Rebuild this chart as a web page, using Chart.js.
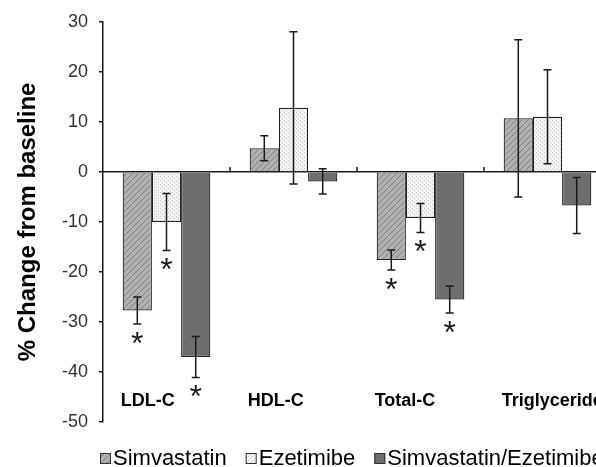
<!DOCTYPE html>
<html>
<head>
<meta charset="utf-8">
<script src="https://cdn.jsdelivr.net/npm/chart.js@4"></script>
<style>
  html, body { margin: 0; padding: 0; background: #fff; overflow: hidden; }
  #wrap { width: 615px; height: 467px; position: relative; }
</style>
</head>
<body>
<div id="wrap"><canvas id="lipidChart"></canvas></div>
<script>
// data
const categories = ['LDL-C', 'HDL-C', 'Total-C', 'Triglyceride'];
const seriesNames = ['Simvastatin', 'Ezetimibe', 'Simvastatin/Ezetimibe'];

const simvaValues = [-27.7, 4.7, -17.6, 10.7];
const simvaErrors = [2.7, 2.5, 2.0, 15.7];
const ezetValues = [-10.0, 12.8, -9.2, 11.0];
const ezetErrors = [5.7, 15.2, 2.9, 9.4];
const comboValues = [-37.0, -1.9, -25.5, -6.7];
const comboErrors = [4.1, 2.5, 2.7, 5.6];

// * = significant vs baseline
const simvaSig = [true, false, true, false];
const ezetSig = [true, false, true, false];
const comboSig = [true, false, true, false];

const yTicks = [30, 20, 10, 0, -10, -20, -30, -40, -50];

// fill patterns
function makePattern(size, bg, drawFn) {
    const c = document.createElement('canvas');
    c.width = size;
    c.height = size;
    const g = c.getContext('2d');
    g.fillStyle = bg;
    g.fillRect(0, 0, size, size);
    drawFn(g);
    return g.createPattern(c, 'repeat');
}

const hatch = makePattern(6, '#b0b0b0', g => {
    g.strokeStyle = '#808080';
    g.lineWidth = 1;
    g.beginPath();
    g.moveTo(0, 6); g.lineTo(6, 0);
    g.moveTo(-3, 3); g.lineTo(3, -3);
    g.moveTo(3, 9); g.lineTo(9, 3);
    g.stroke();
});
const dots = makePattern(4, '#f2f2f2', g => {
    g.fillStyle = '#c4c4c4';
    g.fillRect(0, 0, 1, 1);
    g.fillRect(2, 2, 1, 1);
});
const solid = '#6e6e6e';

const errorSets = [simvaErrors, ezetErrors, comboErrors];
const sigSets = [simvaSig, ezetSig, comboSig];

// error bars, asterisks, category labels, boundary ticks
const extrasPlugin = {
    id: 'extras',
    afterDatasetsDraw(chart) {
        const ctx = chart.ctx;
        const y = chart.scales.y;
        const x = chart.scales.x;
        ctx.save();
        chart.data.datasets.forEach((ds, di) => {
            const meta = chart.getDatasetMeta(di);
            meta.data.forEach((bar, i) => {
                const v = ds.data[i];
                const e = errorSets[di][i];
                const top = y.getPixelForValue(v + e);
                const bot = y.getPixelForValue(v - e);
                ctx.strokeStyle = '#1a1a1a';
                ctx.lineWidth = 1.5;
                ctx.beginPath();
                ctx.moveTo(bar.x, top); ctx.lineTo(bar.x, bot);
                ctx.moveTo(bar.x - 4, top); ctx.lineTo(bar.x + 4, top);
                ctx.moveTo(bar.x - 4, bot); ctx.lineTo(bar.x + 4, bot);
                ctx.stroke();
                if (sigSets[di][i]) {
                    ctx.fillStyle = '#1a1a1a';
                    ctx.font = '32px "Liberation Sans", Arial';
                    ctx.textAlign = 'center';
                    ctx.textBaseline = 'alphabetic';
                    ctx.fillText('*', bar.x, bot + 30);
                }
            });
        });

        // small ticks between categories, above the axis
        const zeroY = y.getPixelForValue(0);
        ctx.strokeStyle = '#1a1a1a';
        ctx.lineWidth = 1.5;
        ctx.beginPath();
        for (let i = 1; i <= categories.length; i++) {
            const bx = (x.getPixelForValue(i - 1) + x.getPixelForValue(i)) / 2;
            ctx.moveTo(bx, zeroY);
            ctx.lineTo(bx, zeroY - 5);
        }
        ctx.stroke();

        // category labels inside the plot, near the bottom
        const firstMeta = chart.getDatasetMeta(0);
        ctx.fillStyle = '#000';
        ctx.font = 'bold 18px "Liberation Sans", Arial';
        ctx.textAlign = 'left';
        ctx.textBaseline = 'middle';
        categories.forEach((c, i) => {
            const b = firstMeta.data[i];
            ctx.fillText(c, b.x - b.width / 2 - 2, y.getPixelForValue(-45.8));
        });
        ctx.restore();
    },
    afterDraw(chart) {
        // legend along the bottom
        const ctx = chart.ctx;
        ctx.save();
        ctx.font = '22px "Liberation Sans", Arial';
        ctx.textBaseline = 'middle';
        ctx.textAlign = 'left';
        let lx = 100;
        const ly = 459;
        chart.data.datasets.forEach(ds => {
            ctx.fillStyle = ds.backgroundColor;
            ctx.fillRect(lx, ly - 6, 11, 11);
            ctx.strokeStyle = '#333';
            ctx.lineWidth = 1;
            ctx.strokeRect(lx + 0.5, ly - 5.5, 10, 10);
            ctx.fillStyle = '#000';
            ctx.fillText(ds.label, lx + 13, ly);
            lx += 13 + ctx.measureText(ds.label).width + 19;
        });
        ctx.restore();
    }
};

const barStyle = {
    borderColor: '#222',
    borderWidth: 1.2,
    categoryPercentage: 0.69,
    barPercentage: 1.0,
};

const data = {
    labels: categories,
    datasets: [
        { label: seriesNames[0], data: simvaValues, backgroundColor: hatch, ...barStyle },
        { label: seriesNames[1], data: ezetValues, backgroundColor: dots, ...barStyle },
        { label: seriesNames[2], data: comboValues, backgroundColor: solid, ...barStyle },
    ]
};

const options = {
    responsive: true,
    maintainAspectRatio: false,
    animation: false,
    layout: {
        padding: { left: 0, right: 4, top: 21, bottom: 45 }
    },
    plugins: {
        legend: { display: false },
        tooltip: { enabled: false }
    },
    scales: {
        x: {
            position: { y: 0 },
            grid: { display: false },
            border: { display: true, color: '#1a1a1a', width: 1.5 },
            ticks: { display: false }
        },
        y: {
            min: -50,
            max: 30,
            afterBuildTicks: s => { s.ticks = yTicks.map(v => ({ value: v })); },
            afterFit: s => { s.width = 103; },
            grid: {
                drawOnChartArea: false,
                drawTicks: true,
                tickLength: 4,
                color: '#1a1a1a',
                lineWidth: 1.5
            },
            border: { display: true, color: '#1a1a1a', width: 1.5 },
            ticks: {
                padding: 11,
                color: '#333',
                font: { family: '"Liberation Sans", Arial', size: 18 }
            },
            title: {
                display: true,
                text: '% Change from baseline',
                color: '#000',
                padding: { top: 14, bottom: 0 },
                font: { family: '"Liberation Sans", Arial', size: 24, weight: 'bold' }
            }
        }
    }
};

new Chart(document.getElementById('lipidChart'), {
    type: 'bar',
    data,
    options,
    plugins: [extrasPlugin]
});
</script>
</body>
</html>
